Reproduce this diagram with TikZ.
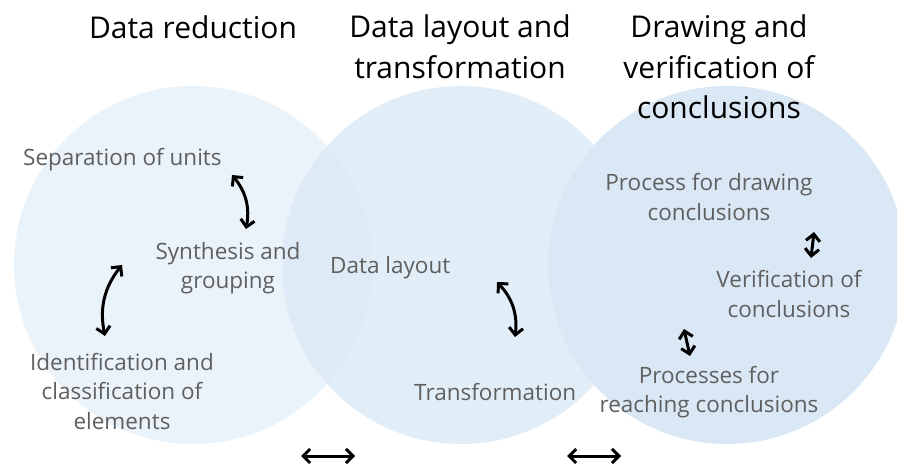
\documentclass[tikz,border=0pt]{standalone}
\usepackage{fontspec}
\setmainfont{Open Sans}
\usetikzlibrary{arrows.meta}
\definecolor{leftfill}{RGB}{235,243,250}
\definecolor{midfill}{RGB}{226,238,247}
\definecolor{overlapfill}{RGB}{222,234,245}
\definecolor{rightfill}{RGB}{218,232,245}
\definecolor{bodygray}{RGB}{95,95,95}
\tikzset{
  title/.style={font=\fontsize{30}{40.5}\selectfont, text=black, align=center, inner sep=0pt},
  body/.style={font=\fontsize{22.5}{29.5}\selectfont, text=bodygray, align=center, inner sep=0pt},
  dbl/.style={{Straight Barb[length=7pt,width=14pt,line width=3pt]}-{Straight Barb[length=7pt,width=14pt,line width=3pt]}, line width=3pt, black},
}
\begin{document}
\begin{tikzpicture}[x=1pt,y=-1pt]
\useasboundingbox (0,0) rectangle (897,468);
\fill[white] (0,0) rectangle (897,468);
% the three overlapping stages
\begin{scope}
\clip (0,0) rectangle (897,468);
\fill[leftfill] (193,265) circle (179);
\fill[midfill] (461,265) circle (179);
\begin{scope}
\clip (193,265) circle (179);
\fill[overlapfill] (461,265) circle (179);
\end{scope}
\fill[rightfill] (727,265) circle (179);
\end{scope}
% headings
\node[title] (t1) at (193,27) {Data reduction};
\node[title] (t2) at (460,47) {Data layout and\\transformation};
\node[title] (t3) at (719,67) {Drawing and\\verification of\\conclusions};
% stage 1
\node[body, anchor=west] (su) at (23,160) {Separation of units};
\node[body] (sg) at (228,268) {Synthesis and\\grouping};
\node[body] (ic) at (122,391) {Identification and\\classification of\\elements};
% stage 2
\node[body, anchor=west] (dl) at (330,268) {Data layout};
\node[body, anchor=west] (tr) at (414,392) {Transformation};
% stage 3
\node[body] (pd) at (709,197) {Process for drawing\\conclusions};
\node[body] (vc) at (789,294) {Verification of\\conclusions};
\node[body] (pr) at (709,392) {Processes for\\reaching conclusions};
% links within stages
\coordinate (a1s) at (232,175);
\coordinate (a1e) at (246,229);
\draw[dbl] (a1s) to[bend left=25] (a1e);
\coordinate (a2s) at (122,265);
\coordinate (a2e) at (105,336);
\draw[dbl] (a2s) to[bend right=25] (a2e);
\coordinate (a3s) at (497,282);
\coordinate (a3e) at (515,337);
\draw[dbl] (a3s) to[bend left=25] (a3e);
\coordinate (a4s) at (814,232);
\coordinate (a4e) at (811,258);
\draw[dbl] (a4s) -- (a4e);
\coordinate (a5s) at (684,329);
\coordinate (a5e) at (690,356);
\draw[dbl] (a5s) -- (a5e);
% links between stages
\coordinate (b1s) at (301,456);
\coordinate (b1e) at (355,456);
\draw[dbl] (b1s) -- (b1e);
\coordinate (b2s) at (567,456);
\coordinate (b2e) at (621,456);
\draw[dbl] (b2s) -- (b2e);
\end{tikzpicture}
\end{document}
